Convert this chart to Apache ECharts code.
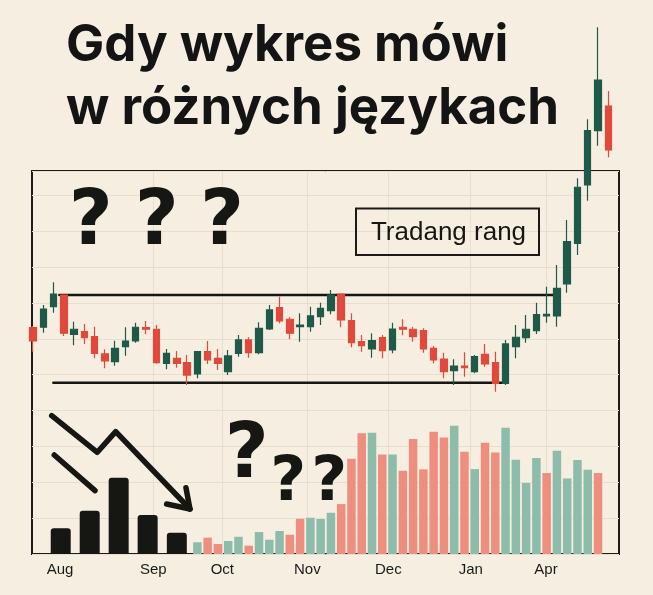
<!DOCTYPE html>
<html lang="pl">
<head>
<meta charset="utf-8">
<title>Gdy wykres mówi w różnych językach</title>
<script src="https://cdn.jsdelivr.net/npm/echarts@6/dist/echarts.min.js"></script>
<style>
    html, body { margin: 0; padding: 0; background: #f6efe1; }
    #chart { width: 653px; height: 595px; }
</style>
</head>
<body>
<div id="chart"></div>
<script>
// świece: [open, close, low, high]
const candles = [
    [106.24, 104.71, 103.48, 106.44], [106.29, 108.39, 105.67, 108.85], [108.66, 110.11, 107.97, 111.46],
    [110.0, 105.6, 105.29, 110.05], [105.48, 106.06, 104.22, 106.93], [105.78, 105.09, 104.37, 106.67],
    [105.21, 103.3, 102.72, 106.36], [103.22, 102.41, 101.57, 103.76], [102.33, 103.87, 101.87, 104.75],
    [104.06, 104.71, 103.02, 106.29], [104.71, 106.29, 104.52, 106.82], [106.24, 106.06, 105.48, 107.01],
    [106.06, 102.22, 102.1, 106.55], [102.15, 103.3, 101.46, 103.79], [102.72, 102.15, 101.64, 103.56],
    [102.22, 100.8, 99.66, 103.1], [100.92, 103.48, 100.43, 103.56], [103.48, 102.53, 102.07, 104.71],
    [102.72, 102.15, 101.38, 103.79], [101.18, 102.99, 100.8, 103.68], [103.3, 104.83, 102.91, 105.4],
    [104.83, 103.37, 102.79, 105.14], [103.37, 106.17, 103.18, 106.86], [106.09, 108.28, 105.98, 108.85],
    [108.54, 107.01, 106.75, 109.8], [107.21, 105.6, 104.91, 107.44], [106.36, 106.55, 104.63, 107.9],
    [106.36, 107.59, 105.78, 108.66], [107.51, 108.47, 106.55, 109.11], [108.2, 110.0, 107.78, 110.57],
    [110.11, 107.13, 106.29, 110.11], [107.05, 104.52, 103.99, 107.9], [104.63, 104.17, 103.48, 105.4],
    [103.79, 104.75, 102.79, 105.6], [105.09, 103.6, 102.72, 105.4], [103.68, 106.09, 103.3, 106.82],
    [106.29, 106.06, 105.37, 107.21], [106.06, 105.21, 104.63, 106.32], [105.9, 103.79, 103.37, 106.17],
    [103.87, 102.53, 102.15, 104.14], [102.64, 101.18, 100.43, 103.37], [101.3, 101.84, 99.66, 102.61],
    [101.84, 101.64, 100.61, 103.41], [101.18, 102.91, 101.0, 103.1], [103.18, 102.07, 101.76, 104.37],
    [102.22, 99.85, 98.89, 103.48], [99.85, 104.37, 99.66, 104.83], [104.06, 105.14, 102.72, 106.55],
    [105.09, 106.06, 104.52, 107.7], [105.9, 107.74, 105.52, 109.11], [107.59, 107.78, 106.82, 110.95],
    [107.59, 110.77, 106.36, 113.45], [111.26, 116.13, 110.26, 118.62], [115.94, 122.38, 114.6, 123.41],
    [122.64, 128.89, 120.84, 130.2], [128.89, 134.71, 127.16, 140.77], [131.72, 126.67, 125.83, 133.45],
];

// wolumen od świecy nr 16
const volStart = 16;
const volumes = [
    9.2, 12.8, 7.8, 10.2, 13.5, 6.5, 17.2, 11.2, 18.0, 15.1,
    27.6, 28.4, 27.4, 32.3, 39.1, 74.6, 94.5, 94.9, 78.0, 78.0,
    65.2, 90.0, 66.3, 95.7, 91.3, 100.4, 80.1, 66.5, 87.1, 79.6,
    98.9, 73.8, 55.6, 75.1, 63.4, 80.8, 59.2, 73.6, 66.0, 63.4,
];
const volUp = [
    1, 0, 0, 1, 1, 0, 1, 1, 1, 0,
    0, 1, 1, 1, 0, 0, 0, 1, 0, 1,
    0, 0, 0, 0, 0, 1, 0, 1, 0, 0,
    1, 1, 1, 1, 0, 1, 1, 1, 1, 0,
];

// czarne słupki (pozycja w jednostkach świec)
const blackPos = [2.7, 5.52, 8.34, 11.16, 14.0];
const blackVol = [20.1, 33.9, 59.7, 30.5, 16.7];

const monthNames = ["Aug", "Sep", "Oct", "Nov", "Dec", "Jan", "Apr"];
const monthPos = [2.63, 11.71, 18.43, 26.7, 34.59, 42.61, 49.94];

const resistance = [[2.56, 110.0], [50.66, 110.0]];
const support = [[1.98, 99.92], [45.64, 99.92]];
const arrowMain = [[1.82, 96.13], [6.26, 91.92], [8.05, 94.29], [15.28, 85.4]];
const arrowHead = [[14.89, 87.85], [15.28, 85.4], [13.01, 85.98]];
const arrowSmall = [[2.07, 91.61], [6.04, 87.51]];

const GREEN = "#1f5a48";
const RED = "#e0493b";
const VOL_GREEN = "#8dbdaa";
const VOL_RED = "#ee8e7f";
const INK = "#161613";
const FAINT = "#e7dfcd";
const FONT = "'Liberation Sans', Arial, sans-serif";
const TITLE_FONT = "Inter, 'Liberation Sans', sans-serif";
const HEAVY = "'DejaVu Sans', 'Liberation Sans', sans-serif";

const categories = candles.map((c, i) => String(i + 1));

const volData = categories.map((c, i) => {
    const k = i - volStart;
    if (k < 0 || k >= volumes.length) return null;
    return {
        value: volumes[k],
        itemStyle: { color: volUp[k] ? VOL_GREEN : VOL_RED },
    };
});

const lineSeries = (data, width) => ({
    type: "line",
    xAxisIndex: 2,
    yAxisIndex: 1,
    data: data,
    symbol: "none",
    silent: true,
    z: 4,
    lineStyle: { color: INK, width: width, cap: "round", join: "round" },
});

const textMark = (text, x, y, font) => ({
    type: "text",
    x: x,
    y: y,
    z: 10,
    style: {
        text: text,
        font: font,
        fill: INK,
        textAlign: "center",
        textVerticalAlign: "middle",
    },
});

let option = {
    backgroundColor: "#f6efe1",
    animation: false,
    title: {
        text: "Gdy wykres mówi\nw różnych językach",
        left: 61,
        top: 9,
        textStyle: {
            fontFamily: TITLE_FONT,
            fontSize: 51,
            fontWeight: "bold",
            lineHeight: 63,
            color: "#141414",
        },
    },
    grid: [
        {
            left: 32, right: 34, top: 171, bottom: 41,
            show: true, borderColor: "#1c1c1c", borderWidth: 2,
            backgroundColor: "transparent",
        },
        { left: 27.86, right: 39.57, top: 171, bottom: 41 },
    ],
    xAxis: [
        { type: "value", gridIndex: 0, show: false },
        {
            type: "category", gridIndex: 1, data: categories,
            position: "top", boundaryGap: true, show: false,
        },
        {
            type: "value", gridIndex: 1, min: -0.5, max: 56.5,
            position: "bottom",
            axisLine: { show: false },
            axisTick: { show: false, customValues: monthPos.slice(1) },
            splitLine: { show: true, lineStyle: { color: FAINT, width: 1 } },
            axisLabel: {
                customValues: monthPos,
                margin: 8,
                fontFamily: FONT,
                fontSize: 15,
                color: "#1a1a1a",
                formatter: (v) => {
                    const i = monthPos.findIndex((p) => Math.abs(p - v) < 0.01);
                    return i < 0 ? "" : monthNames[i];
                },
            },
        },
    ],
    yAxis: [
        {
            type: "value", gridIndex: 0, min: 0, max: 10.68, interval: 1,
            axisLine: { show: false }, axisTick: { show: false },
            axisLabel: { show: false },
            splitLine: { lineStyle: { color: FAINT, width: 1 } },
        },
        {
            type: "value", gridIndex: 1, min: 80.23, max: 124.25,
            show: false, splitLine: { show: false },
        },
        {
            type: "value", gridIndex: 1, min: 0, max: 300,
            show: false, splitLine: { show: false },
        },
    ],
    series: [
        {
            name: "Kurs",
            type: "candlestick",
            xAxisIndex: 1,
            yAxisIndex: 1,
            data: candles,
            barWidth: 7,
            clip: false,
            z: 5,
            itemStyle: {
                color: GREEN,
                color0: RED,
                borderColor: GREEN,
                borderColor0: RED,
                borderWidth: 1.2,
            },
        },
        {
            name: "Wolumen",
            type: "bar",
            xAxisIndex: 1,
            yAxisIndex: 2,
            data: volData,
            barWidth: 8.5,
            z: 3,
        },
        {
            name: "Wolumen (stary)",
            type: "bar",
            xAxisIndex: 2,
            yAxisIndex: 2,
            data: blackPos.map((x, i) => [x, blackVol[i]]),
            barWidth: 20,
            z: 3,
            itemStyle: { color: INK, borderRadius: [3, 3, 0, 0] },
        },
        lineSeries(resistance, 2.5),
        lineSeries(support, 2.5),
        lineSeries(arrowMain, 5.5),
        lineSeries(arrowHead, 5.5),
        lineSeries(arrowSmall, 5.5),
    ],
    graphic: [
        {
            type: "rect",
            z: 10,
            shape: { x: 356, y: 208.5, width: 183, height: 46.5 },
            style: { fill: "transparent", stroke: "#1a1a1a", lineWidth: 2 },
        },
        textMark("Tradang rang", 448.5, 232.5, "26px " + FONT),
    ],
};

// znaki zapytania: [x, y, rozmiar]
const questions = [
    [90.8, 224, 76], [156.7, 224, 76], [222, 224, 76],
    [246.7, 457, 76], [288.3, 484, 62], [329.3, 484, 62],
];
questions.forEach((q) => {
    option.graphic.push(textMark("?", q[0], q[1], "bold " + q[2] + "px " + HEAVY));
});

const myChart = echarts.init(document.getElementById("chart"));
myChart.setOption(option);
</script>
</body>
</html>
